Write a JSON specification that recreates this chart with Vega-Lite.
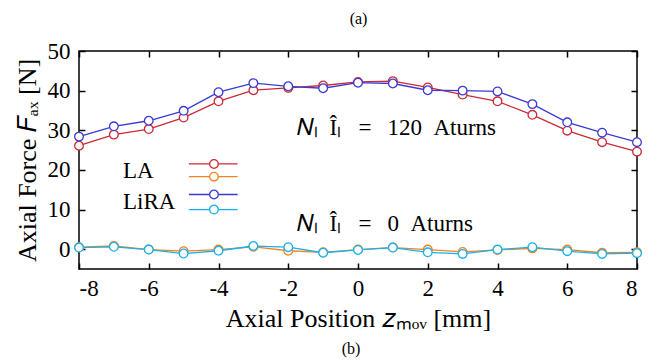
{
  "$schema": "https://vega.github.io/schema/vega-lite/v6.json",
  "width": 558,
  "height": 218,
  "autosize": {"type": "none"},
  "padding": {"left": 79, "top": 51, "right": 35, "bottom": 95},
  "background": "white",
  "title": {"text": "(b)", "orient": "bottom", "anchor": "middle", "fontSize": 16, "font": "Liberation Serif", "fontWeight": "normal", "offset": 10, "dx": -7},
  "config": {
    "view": {"stroke": "black", "strokeWidth": 1.5},
    "font": "Liberation Serif",
    "axis": {
      "domain": false,
      "grid": true,
      "gridColor": "#e8e8e8",
      "gridWidth": 1,
      "tickColor": "black",
      "tickWidth": 1.5,
      "tickSize": -6,
      "labelFont": "Liberation Serif",
      "labelFontSize": 23,
      "labelColor": "black",
      "titleFont": "Liberation Serif",
      "titleFontSize": 26,
      "titleFontWeight": "normal",
      "titleColor": "black"
    }
  },
  "data": {"values": [
    {"z": -8, "F": 26.1, "series": "LA 120"}, {"z": -7, "F": 28.9, "series": "LA 120"}, {"z": -6, "F": 30.3, "series": "LA 120"}, {"z": -5, "F": 33.2, "series": "LA 120"}, {"z": -4, "F": 37.3, "series": "LA 120"}, {"z": -3, "F": 40.1, "series": "LA 120"}, {"z": -2, "F": 40.7, "series": "LA 120"}, {"z": -1, "F": 41.3, "series": "LA 120"}, {"z": 0, "F": 42.2, "series": "LA 120"}, {"z": 1, "F": 42.4, "series": "LA 120"}, {"z": 2, "F": 40.8, "series": "LA 120"}, {"z": 3, "F": 39.0, "series": "LA 120"}, {"z": 4, "F": 37.3, "series": "LA 120"}, {"z": 5, "F": 33.9, "series": "LA 120"}, {"z": 6, "F": 29.9, "series": "LA 120"}, {"z": 7, "F": 27.0, "series": "LA 120"}, {"z": 8, "F": 24.6, "series": "LA 120"},
    {"z": -8, "F": 0.5, "series": "LA 0"}, {"z": -7, "F": 0.8, "series": "LA 0"}, {"z": -6, "F": -0.1, "series": "LA 0"}, {"z": -5, "F": -0.5, "series": "LA 0"}, {"z": -4, "F": -0.1, "series": "LA 0"}, {"z": -3, "F": 0.6, "series": "LA 0"}, {"z": -2, "F": -0.4, "series": "LA 0"}, {"z": -1, "F": -0.8, "series": "LA 0"}, {"z": 0, "F": -0.1, "series": "LA 0"}, {"z": 1, "F": 0.4, "series": "LA 0"}, {"z": 2, "F": -0.1, "series": "LA 0"}, {"z": 3, "F": -0.7, "series": "LA 0"}, {"z": 4, "F": -0.2, "series": "LA 0"}, {"z": 5, "F": 0.2, "series": "LA 0"}, {"z": 6, "F": -0.1, "series": "LA 0"}, {"z": 7, "F": -0.9, "series": "LA 0"}, {"z": 8, "F": -0.8, "series": "LA 0"},
    {"z": -8, "F": 28.4, "series": "LiRA 120"}, {"z": -7, "F": 31.0, "series": "LiRA 120"}, {"z": -6, "F": 32.4, "series": "LiRA 120"}, {"z": -5, "F": 34.9, "series": "LiRA 120"}, {"z": -4, "F": 39.6, "series": "LiRA 120"}, {"z": -3, "F": 41.9, "series": "LiRA 120"}, {"z": -2, "F": 41.1, "series": "LiRA 120"}, {"z": -1, "F": 40.6, "series": "LiRA 120"}, {"z": 0, "F": 42.0, "series": "LiRA 120"}, {"z": 1, "F": 41.8, "series": "LiRA 120"}, {"z": 2, "F": 40.1, "series": "LiRA 120"}, {"z": 3, "F": 40.0, "series": "LiRA 120"}, {"z": 4, "F": 39.8, "series": "LiRA 120"}, {"z": 5, "F": 36.6, "series": "LiRA 120"}, {"z": 6, "F": 32.0, "series": "LiRA 120"}, {"z": 7, "F": 29.4, "series": "LiRA 120"}, {"z": 8, "F": 27.0, "series": "LiRA 120"},
    {"z": -8, "F": 0.4, "series": "LiRA 0"}, {"z": -7, "F": 0.6, "series": "LiRA 0"}, {"z": -6, "F": -0.1, "series": "LiRA 0"}, {"z": -5, "F": -1.1, "series": "LiRA 0"}, {"z": -4, "F": -0.4, "series": "LiRA 0"}, {"z": -3, "F": 0.8, "series": "LiRA 0"}, {"z": -2, "F": 0.5, "series": "LiRA 0"}, {"z": -1, "F": -0.9, "series": "LiRA 0"}, {"z": 0, "F": -0.2, "series": "LiRA 0"}, {"z": 1, "F": 0.4, "series": "LiRA 0"}, {"z": 2, "F": -0.8, "series": "LiRA 0"}, {"z": 3, "F": -1.2, "series": "LiRA 0"}, {"z": 4, "F": -0.1, "series": "LiRA 0"}, {"z": 5, "F": 0.5, "series": "LiRA 0"}, {"z": 6, "F": -0.5, "series": "LiRA 0"}, {"z": 7, "F": -1.2, "series": "LiRA 0"}, {"z": 8, "F": -1.0, "series": "LiRA 0"}
  ]},
  "layer": [
    {
      "data": {"values": [{"box": "upper"}]},
      "mark": {"type": "rect", "fill": "white"},
      "encoding": {
        "x": {"datum": -2.0, "type": "quantitative", "axis": null, "scale": {"domain": [-8, 8], "nice": false, "zero": false}},
        "x2": {"datum": 4.36},
        "y": {"datum": 26.8, "type": "quantitative", "axis": null, "scale": {"domain": [-5, 50], "nice": false, "zero": false}},
        "y2": {"datum": 34.4}
      }
    },
    {
      "data": {"values": [{"box": "lower"}]},
      "mark": {"type": "rect", "fill": "white"},
      "encoding": {
        "x": {"datum": -2.0, "type": "quantitative", "axis": null},
        "x2": {"datum": 3.76},
        "y": {"datum": 2.8, "type": "quantitative", "axis": null},
        "y2": {"datum": 9.4}
      }
    },
    {
      "data": {"values": [{"box": "legend"}]},
      "mark": {"type": "rect", "fill": "white"},
      "encoding": {
        "x": {"datum": -6.82, "type": "quantitative", "axis": null},
        "x2": {"datum": -3.38},
        "y": {"datum": 8.4, "type": "quantitative", "axis": null},
        "y2": {"datum": 24.6}
      }
    },
    {
      "mark": {"type": "line", "strokeWidth": 1.3},
      "encoding": {
        "x": {"field": "z", "type": "quantitative",
          "axis": {"orient": "bottom", "values": [-8, -6, -4, -2, 0, 2, 4, 6, 8], "labelExpr": "'' + datum.value", "labelPadding": 14, "title": "Axial Position 𝑧ₘₒᵥ [mm]", "titlePadding": 5}},
        "y": {"field": "F", "type": "quantitative",
          "axis": {"orient": "left", "values": [0, 10, 20, 30, 40, 50], "labelPadding": 15, "title": "Axial Force 𝐹ₐₓ [N]", "titlePadding": 7}},
        "stroke": {"field": "series", "type": "nominal",
          "scale": {"domain": ["LA 120", "LA 0", "LiRA 120", "LiRA 0"], "range": ["#cc2936", "#f5821f", "#3b3bd4", "#17b1ee"]},
          "legend": null},
        "detail": {"field": "series"}
      }
    },
    {
      "mark": {"type": "point", "shape": "circle", "filled": false, "fill": "white", "fillOpacity": 1, "opacity": 1, "size": 75, "strokeWidth": 1.3},
      "encoding": {
        "x": {"field": "z", "type": "quantitative", "axis": null},
        "y": {"field": "F", "type": "quantitative", "axis": null},
        "stroke": {"field": "series", "type": "nominal", "legend": null}
      }
    },
    {
      "data": {"values": [{"series": "LA 120"}]},
      "encoding": {"y": {"datum": 21.5, "type": "quantitative", "axis": null}},
      "layer": [
        {"mark": {"type": "rule", "stroke": "#cc2936", "strokeWidth": 1.3}, "encoding": {"x": {"datum": -4.85, "type": "quantitative", "axis": null}, "x2": {"datum": -3.45}}},
        {"mark": {"type": "point", "shape": "circle", "filled": false, "fill": "white", "fillOpacity": 1, "opacity": 1, "size": 75, "strokeWidth": 1.3, "stroke": "#cc2936"}, "encoding": {"x": {"datum": -4.13, "type": "quantitative", "axis": null}}}
      ]
    },
    {
      "data": {"values": [{"series": "LA 0"}]},
      "encoding": {"y": {"datum": 18.3, "type": "quantitative", "axis": null}},
      "layer": [
        {"mark": {"type": "rule", "stroke": "#f5821f", "strokeWidth": 1.3}, "encoding": {"x": {"datum": -4.85, "type": "quantitative", "axis": null}, "x2": {"datum": -3.45}}},
        {"mark": {"type": "point", "shape": "circle", "filled": false, "fill": "white", "fillOpacity": 1, "opacity": 1, "size": 75, "strokeWidth": 1.3, "stroke": "#f5821f"}, "encoding": {"x": {"datum": -4.13, "type": "quantitative", "axis": null}}}
      ]
    },
    {
      "data": {"values": [{"series": "LiRA 120"}]},
      "encoding": {"y": {"datum": 13.8, "type": "quantitative", "axis": null}},
      "layer": [
        {"mark": {"type": "rule", "stroke": "#3b3bd4", "strokeWidth": 1.3}, "encoding": {"x": {"datum": -4.85, "type": "quantitative", "axis": null}, "x2": {"datum": -3.45}}},
        {"mark": {"type": "point", "shape": "circle", "filled": false, "fill": "white", "fillOpacity": 1, "opacity": 1, "size": 75, "strokeWidth": 1.3, "stroke": "#3b3bd4"}, "encoding": {"x": {"datum": -4.13, "type": "quantitative", "axis": null}}}
      ]
    },
    {
      "data": {"values": [{"series": "LiRA 0"}]},
      "encoding": {"y": {"datum": 10.0, "type": "quantitative", "axis": null}},
      "layer": [
        {"mark": {"type": "rule", "stroke": "#17b1ee", "strokeWidth": 1.3}, "encoding": {"x": {"datum": -4.85, "type": "quantitative", "axis": null}, "x2": {"datum": -3.45}}},
        {"mark": {"type": "point", "shape": "circle", "filled": false, "fill": "white", "fillOpacity": 1, "opacity": 1, "size": 75, "strokeWidth": 1.3, "stroke": "#17b1ee"}, "encoding": {"x": {"datum": -4.13, "type": "quantitative", "axis": null}}}
      ]
    },
    {
      "data": {"values": [{"label": "LA"}]},
      "mark": {"type": "text", "align": "left", "baseline": "middle", "fontSize": 23, "font": "Liberation Serif", "color": "black"},
      "encoding": {
        "x": {"datum": -6.74, "type": "quantitative", "axis": null},
        "y": {"datum": 19.8, "type": "quantitative", "axis": null},
        "text": {"field": "label"}
      }
    },
    {
      "data": {"values": [{"label": "LiRA"}]},
      "mark": {"type": "text", "align": "left", "baseline": "middle", "fontSize": 23, "font": "Liberation Serif", "color": "black"},
      "encoding": {
        "x": {"datum": -6.74, "type": "quantitative", "axis": null},
        "y": {"datum": 12.0, "type": "quantitative", "axis": null},
        "text": {"field": "label"}
      }
    },
    {
      "data": {"values": [{"label": "𝑁ₗ\u2002Îₗ\u2002 =\u2002\u2009120\u2002Aturns"}]},
      "mark": {"type": "text", "align": "left", "baseline": "middle", "fontSize": 23, "font": "Liberation Serif", "color": "black"},
      "encoding": {
        "x": {"datum": -1.75, "type": "quantitative", "axis": null},
        "y": {"datum": 30.6, "type": "quantitative", "axis": null},
        "text": {"field": "label"}
      }
    },
    {
      "data": {"values": [{"label": "𝑁ₗ\u2002Îₗ\u2002 =\u2002\u20090\u2002Aturns"}]},
      "mark": {"type": "text", "align": "left", "baseline": "middle", "fontSize": 23, "font": "Liberation Serif", "color": "black"},
      "encoding": {
        "x": {"datum": -1.75, "type": "quantitative", "axis": null},
        "y": {"datum": 6.3, "type": "quantitative", "axis": null},
        "text": {"field": "label"}
      }
    },
    {
      "mark": {"type": "point", "opacity": 0},
      "encoding": {
        "x": {"field": "z", "type": "quantitative",
          "axis": {"orient": "top", "values": [-8, -6, -4, -2, 0, 2, 4, 6, 8], "labels": false, "grid": false, "title": "(a)", "titleFontSize": 16, "titlePadding": 24}},
        "y": {"field": "F", "type": "quantitative",
          "axis": {"orient": "right", "values": [0, 10, 20, 30, 40, 50], "labels": false, "grid": false, "title": null}}
      }
    }
  ]
}
